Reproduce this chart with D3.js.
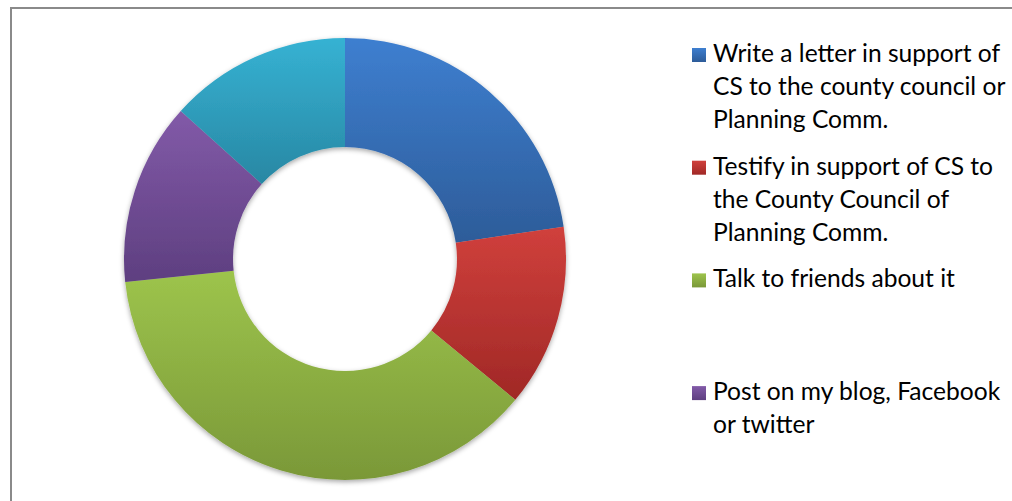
<!DOCTYPE html>
<html>
<head>
<meta charset="utf-8">
<script src="https://cdn.jsdelivr.net/npm/d3@7"></script>
<style>
  body { margin: 0; background: #fff; }
  svg { display: block; }
</style>
</head>
<body>
<div id="container"></div>
<script>
// data
const categories = [
  "Write a letter in support of CS to the county council or Planning Comm.",
  "Testify in support of CS to the County Council of Planning Comm.",
  "Talk to friends about it",
  "Post on my blog, Facebook or twitter",
  "Other"
];
const values = [17, 10, 28, 10, 10];
// legend text as it wraps in the picture
const legendLines = [
  ["Write a letter in support of", "CS to the county council or", "Planning Comm."],
  ["Testify in support of CS to", "the County Council of", "Planning Comm."],
  ["Talk to friends about it"],
  ["Post on my blog, Facebook", "or twitter"],
  ["Other"]
];
const topColors = ["#3e7fd0", "#d0403c", "#9dc44c", "#825aa8", "#36b2d3"];
const bottomColors = ["#2d5c99", "#a02826", "#7a9838", "#5e3f80", "#2887a3"];

const width = 1012;
const height = 501;
const cx = 345, cy = 259;
const outerR = 221, innerR = 112;

const svg = d3.select("#container").append("svg")
  .attr("width", width).attr("height", height);

const defs = svg.append("defs");
categories.forEach((c, i) => {
  const g = defs.append("linearGradient")
    .attr("id", "grad" + i)
    .attr("x1", 0).attr("y1", 0).attr("x2", 0).attr("y2", 1);
  g.append("stop").attr("offset", "0%").attr("stop-color", topColors[i]);
  g.append("stop").attr("offset", "100%").attr("stop-color", bottomColors[i]);
});
const shadow = defs.append("filter").attr("id", "shadow")
  .attr("x", "-10%").attr("y", "-10%").attr("width", "120%").attr("height", "120%");
shadow.append("feDropShadow")
  .attr("dx", 0).attr("dy", 2).attr("stdDeviation", 2.5)
  .attr("flood-color", "#000").attr("flood-opacity", 0.35);

// chart border
svg.append("rect")
  .attr("x", 11).attr("y", 8)
  .attr("width", width + 20).attr("height", height + 20)
  .attr("fill", "none")
  .attr("stroke", "#8a8a8a")
  .attr("stroke-width", 2);

const pie = d3.pie().sort(null).value(d => d);
const arc = d3.arc().innerRadius(innerR).outerRadius(outerR);

const donut = svg.append("g")
  .attr("transform", "translate(" + cx + "," + cy + ")")
  .attr("filter", "url(#shadow)");

donut.selectAll("path")
  .data(pie(values))
  .enter()
  .append("path")
  .attr("d", arc)
  .attr("fill", (d, i) => "url(#grad" + i + ")");

// legend (entries that do not fit in the chart area are dropped, as in the original)
const legendX = 692;
const firstBaseline = 62;
const itemStep = 112.7;
const lineStep = 33;
const legendData = categories
  .map((c, i) => ({ name: c, i: i, y: firstBaseline + i * itemStep }))
  .filter(d => d.y < height - 10);

const legend = svg.append("g").attr("class", "legend");
const items = legend.selectAll("g")
  .data(legendData)
  .enter()
  .append("g")
  .attr("transform", d => "translate(" + legendX + "," + d.y + ")");

items.append("rect")
  .attr("x", 0).attr("y", -14)
  .attr("width", 14).attr("height", 14)
  .attr("fill", d => "url(#grad" + d.i + ")");

items.append("text")
  .attr("x", 21)
  .attr("font-family", "Lato, 'Open Sans', sans-serif")
  .attr("font-size", 24.6)
  .attr("fill", "#000")
  .selectAll("tspan")
  .data(d => legendLines[d.i])
  .enter()
  .append("tspan")
  .attr("x", 21)
  .attr("y", (d, j) => j * lineStep)
  .text(d => d);
</script>
</body>
</html>
